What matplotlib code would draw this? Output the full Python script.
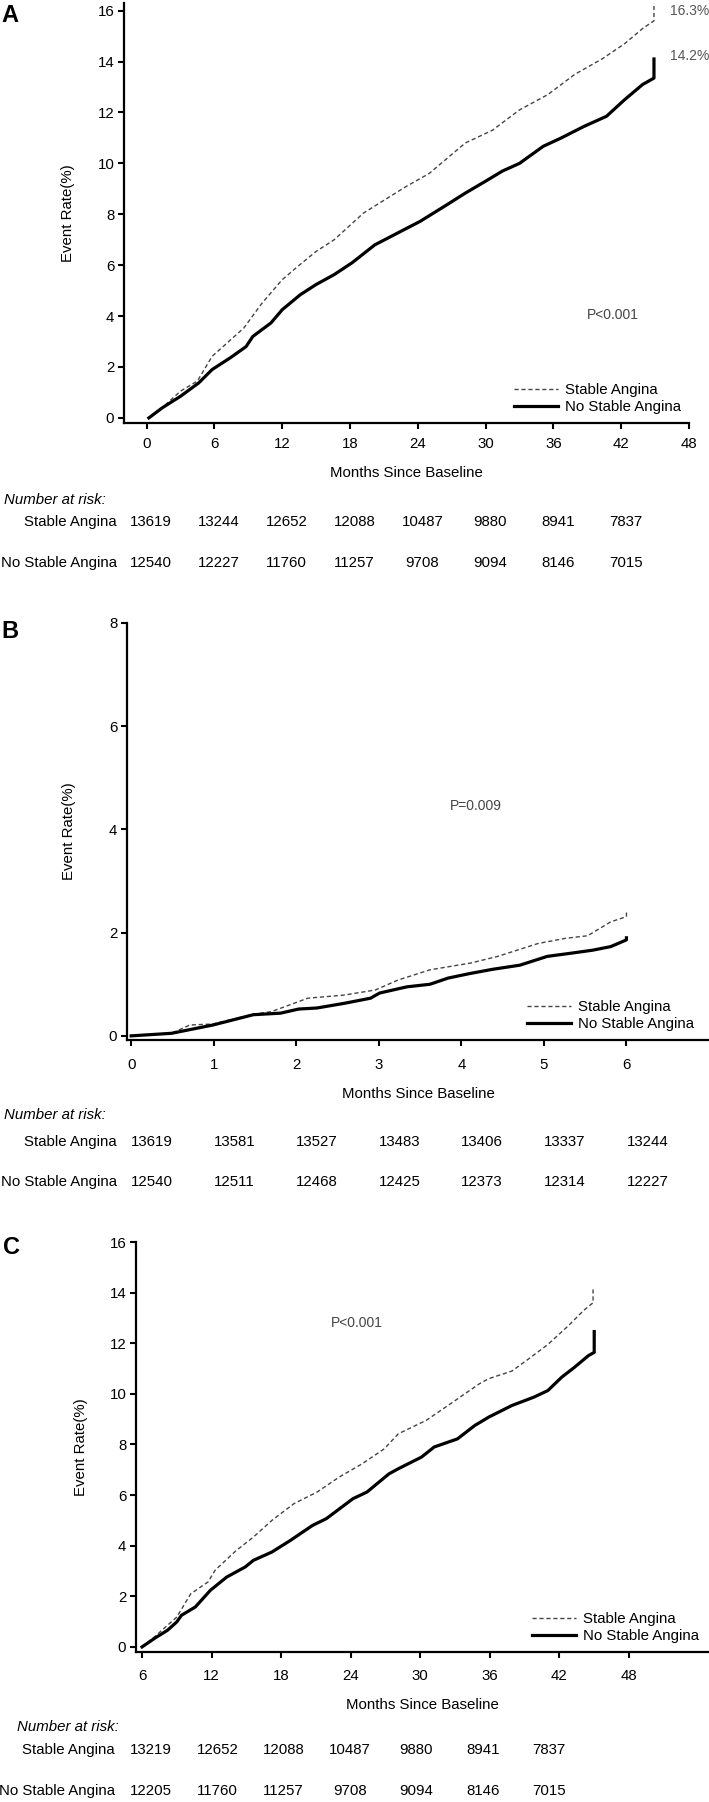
import matplotlib
matplotlib.use('Agg')
import numpy as np
import matplotlib.pyplot as plt
import matplotlib.transforms as mtransforms
from matplotlib.lines import Line2D

plt.rcParams['font.family'] = ['Liberation Sans', 'DejaVu Sans']
plt.rcParams['font.size'] = 10.8

W, H = 709, 1802

# ---- data ----
groups = ['Stable Angina', 'No Stable Angina']

# panel A (0-48 months)
a_months_sa = [0.2, 1.5, 3.0, 4.5, 5.8, 8.6, 10.2, 12.0, 13.4, 15.0, 16.6, 19.2, 23.0, 25.0, 28.2,
               30.6, 33.0, 35.5, 37.9, 40.3, 42.3, 43.9, 44.9, 44.9]
a_rate_sa = [0, 0.45, 1.05, 1.45, 2.42, 3.53, 4.5, 5.43, 5.96, 6.54, 7.0, 8.05, 9.1, 9.6, 10.8,
             11.3, 12.1, 12.7, 13.5, 14.1, 14.7, 15.3, 15.6, 16.3]
a_months_no = [0.2, 1.4, 3.0, 4.6, 5.8, 7.4, 8.8, 9.4, 11.0, 12.0, 13.6, 15.0, 16.6, 18.2, 20.2,
               22.2, 24.2, 26.6, 28.2, 30.0, 31.5, 33.0, 35.1, 36.7, 38.7, 40.7, 42.3, 43.9, 44.9, 44.9]
a_rate_no = [0, 0.4, 0.85, 1.37, 1.9, 2.36, 2.8, 3.2, 3.73, 4.25, 4.84, 5.24, 5.63, 6.1, 6.8,
             7.26, 7.72, 8.38, 8.83, 9.3, 9.7, 10.0, 10.67, 11.0, 11.45, 11.85, 12.5, 13.1, 13.35, 14.1]
a_ticks = [0, 6, 12, 18, 24, 30, 36, 42, 48]
a_risk_ticks = [0, 6, 12, 18, 24, 30, 36, 42]
a_risk_sa = [13619, 13244, 12652, 12088, 10487, 9880, 8941, 7837]
a_risk_no = [12540, 12227, 11760, 11257, 9708, 9094, 8146, 7015]

# panel B (0-6 months)
b_months_sa = [0, 0.49, 0.71, 0.99, 1.48, 1.7, 2.14, 2.58, 2.96, 3.23, 3.62, 4.11, 4.44, 4.93,
               5.26, 5.53, 5.81, 6.0, 6.0]
b_rate_sa = [0, 0.05, 0.21, 0.23, 0.42, 0.47, 0.73, 0.79, 0.89, 1.08, 1.28, 1.41, 1.54, 1.79,
             1.89, 1.94, 2.21, 2.31, 2.4]
b_months_no = [0, 0.49, 0.99, 1.48, 1.81, 2.03, 2.25, 2.58, 2.9, 3.01, 3.34, 3.62, 3.84, 4.11,
               4.38, 4.71, 5.04, 5.32, 5.59, 5.81, 6.0, 6.0]
b_rate_no = [0, 0.05, 0.21, 0.41, 0.44, 0.52, 0.54, 0.63, 0.73, 0.83, 0.95, 1.0, 1.12, 1.21,
             1.29, 1.37, 1.54, 1.6, 1.66, 1.73, 1.86, 1.9]
b_ticks = [0, 1, 2, 3, 4, 5, 6]
b_risk_sa = [13619, 13581, 13527, 13483, 13406, 13337, 13244]
b_risk_no = [12540, 12511, 12468, 12425, 12373, 12314, 12227]

# panel C (6-48 months, landmark)
c_months_sa = [6.0, 7.05, 9.0, 10.2, 11.7, 12.3, 14.1, 15.6, 17.2, 19.1, 21.1, 23.0, 25.0, 26.9,
               28.1, 30.5, 32.8, 35.1, 35.9, 37.9, 39.4, 41.0, 42.7, 44.1, 44.9, 44.9]
c_rate_sa = [0, 0.39, 1.18, 2.1, 2.57, 3.03, 3.8, 4.34, 5.0, 5.66, 6.12, 6.71, 7.24, 7.83,
             8.42, 8.95, 9.67, 10.4, 10.6, 10.9, 11.4, 11.95, 12.66, 13.3, 13.6, 14.2]
c_months_no = [6.0, 7.05, 8.2, 9.0, 9.4, 10.6, 11.9, 13.3, 14.9, 15.6, 17.2, 18.8, 20.7, 21.9,
               24.2, 25.4, 27.3, 28.1, 30.1, 31.2, 33.2, 34.7, 35.9, 37.9, 39.8, 41.0, 42.2,
               43.3, 44.5, 45.0, 45.0]
c_rate_no = [0, 0.33, 0.66, 0.99, 1.25, 1.58, 2.24, 2.76, 3.16, 3.42, 3.75, 4.21, 4.8, 5.07,
             5.86, 6.12, 6.84, 7.04, 7.5, 7.9, 8.22, 8.75, 9.08, 9.54, 9.87, 10.13, 10.66,
             11.05, 11.51, 11.64, 12.46]
c_ticks = [6, 12, 18, 24, 30, 36, 42, 48]
c_risk_sa = [13219, 12652, 12088, 10487, 9880, 8941, 7837]
c_risk_no = [12205, 11760, 11257, 9708, 9094, 8146, 7015]


def rect(left, right, top, bottom):
    return [left / W, 1 - bottom / H, (right - left) / W, (bottom - top) / H]


def fy(py):
    return 1 - py / H


def fx(px):
    return px / W


fig = plt.figure(figsize=(W / 100, H / 100), dpi=100)

dash_kw = dict(color='#444444', lw=1.0, ls=(0, (3, 2)))
solid_kw = dict(color='black', lw=2.3)


def style_axis(ax, xpad):
    for s in ['top', 'right']:
        ax.spines[s].set_visible(False)
    for s in ['left', 'bottom']:
        ax.spines[s].set_linewidth(1.6)
    ax.tick_params(axis='both', direction='out', length=4, width=1.5, labelsize=10.8)
    ax.tick_params(axis='x', pad=xpad)
    ax.tick_params(axis='y', pad=3)


def make_legend(ax, px, py):
    handles = [Line2D([], [], **dash_kw), Line2D([], [], **solid_kw)]
    ax.legend(handles, groups, loc='upper left', bbox_to_anchor=(fx(px), fy(py)),
              bbox_transform=fig.transFigure, frameon=False, borderpad=0, borderaxespad=0,
              handlelength=2.9, handletextpad=0.5, labelspacing=0.2, fontsize=10.8)


def risk_table(ax, y_head, y1, y2, x_head, label_right, xs, sa, no, ha='center', trans=None):
    fig.text(fx(x_head), fy(y_head), 'Number at risk:', style='italic', ha='left', va='center')
    fig.text(fx(label_right), fy(y1), groups[0], ha='right', va='center')
    fig.text(fx(label_right), fy(y2), groups[1], ha='right', va='center')
    if trans is None:
        trans = mtransforms.blended_transform_factory(ax.transData, fig.transFigure)
    for x, v1, v2 in zip(xs, sa, no):
        ax.text(x, fy(y1), str(v1), transform=trans, ha=ha, va='center', clip_on=False)
        ax.text(x, fy(y2), str(v2), transform=trans, ha=ha, va='center', clip_on=False)


# ---------------- panel A ----------------
axA = fig.add_axes(rect(124, 689, 3, 423))
axA.plot(a_months_sa, a_rate_sa, clip_on=False, **dash_kw)
axA.plot(a_months_no, a_rate_no, clip_on=False, **solid_kw)
axA.set_xlim(-2, 48)
axA.set_ylim(-0.2, 16.3)
axA.set_xticks(a_ticks)
axA.set_yticks(np.arange(0, 17, 2))
style_axis(axA, 6)
axA.set_xlabel('Months Since Baseline', labelpad=11)
axA.set_ylabel('Event Rate(%)')
axA.yaxis.set_label_coords(-0.087, 0.5)
axA.text(46.3, 16.0, '16.3%', color='#555555', ha='left', va='center', fontsize=10, clip_on=False)
axA.text(46.3, 14.2, '14.2%', color='#555555', ha='left', va='center', fontsize=10, clip_on=False)
axA.text(41.3, 4.05, 'P<0.001', color='#444444', ha='center', va='center', fontsize=10)
make_legend(axA, 514, 383)
risk_table(axA, 500, 522, 563, 4, 117, [t + 0.4 for t in a_risk_ticks], a_risk_sa, a_risk_no)
fig.text(fx(10), fy(16), 'A', fontsize=17, fontweight='bold', ha='center', va='center')

# ---------------- panel B ----------------
axB = fig.add_axes(rect(127, 709, 623, 1040))
axB.plot(b_months_sa, b_rate_sa, clip_on=False, **dash_kw)
axB.plot(b_months_no, b_rate_no, clip_on=False, **solid_kw)
axB.set_xlim(-0.05, 7.0)
axB.set_ylim(-0.08, 8.0)
axB.set_xticks(b_ticks)
axB.set_yticks([0, 2, 4, 6, 8])
style_axis(axB, 9)
axB.set_xlabel('Months Since Baseline', labelpad=11)
axB.set_ylabel('Event Rate(%)')
axB.yaxis.set_label_coords(-0.088, 0.5)
axB.text(4.17, 4.46, 'P=0.009', color='#444444', ha='center', va='center', fontsize=10)
make_legend(axB, 527, 1000)
risk_table(axB, 1115, 1142, 1182, 4, 117, b_ticks, b_risk_sa, b_risk_no, ha='left')
fig.text(fx(10), fy(631), 'B', fontsize=17, fontweight='bold', ha='center', va='center')

# ---------------- panel C ----------------
axC = fig.add_axes(rect(136, 709, 1242, 1652))
axC.plot(c_months_sa, c_rate_sa, clip_on=False, **dash_kw)
axC.plot(c_months_no, c_rate_no, clip_on=False, **solid_kw)
axC.set_xlim(5.48, 54.9)
axC.set_ylim(-0.2, 16.0)
axC.set_xticks(c_ticks)
axC.set_yticks(np.arange(0, 17, 2))
style_axis(axC, 8)
axC.set_xlabel('Months Since Baseline', labelpad=11)
axC.set_ylabel('Event Rate(%)')
axC.yaxis.set_label_coords(-0.084, 0.5)
axC.text(24.5, 12.8, 'P<0.001', color='#444444', ha='center', va='center', fontsize=10)
make_legend(axC, 532, 1612)
c_cols = [fx(p) for p in np.linspace(151, 549, len(c_risk_sa))]
risk_table(axC, 1727, 1750, 1791, 17, 115, c_cols, c_risk_sa, c_risk_no, trans=fig.transFigure)
fig.text(fx(11), fy(1247), 'C', fontsize=17, fontweight='bold', ha='center', va='center')

fig.savefig('out.png', dpi=100)
